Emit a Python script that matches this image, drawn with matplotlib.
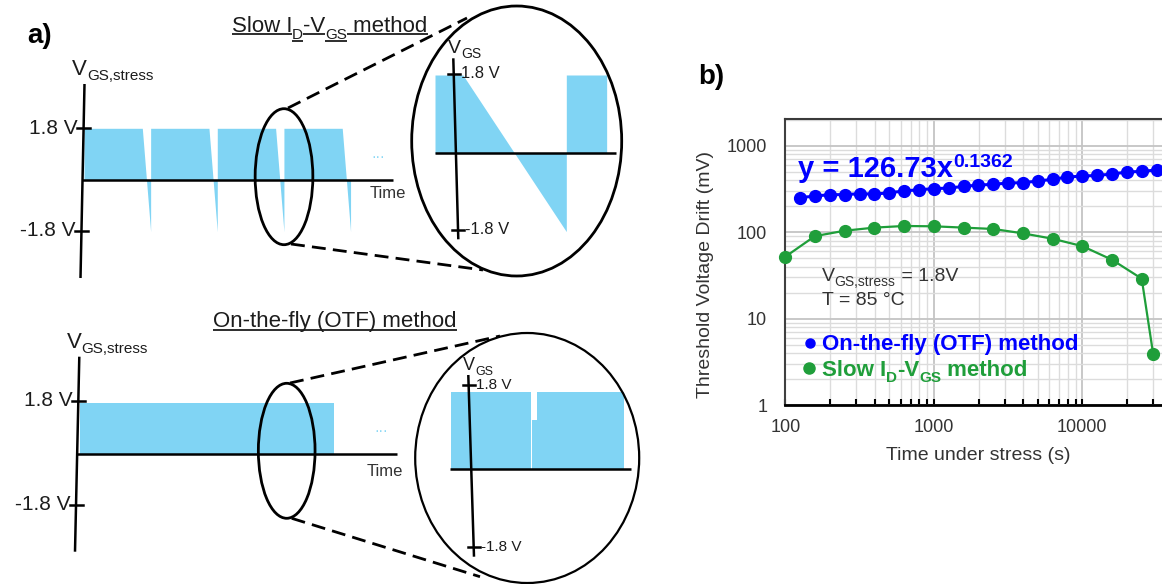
import numpy as np
import matplotlib
matplotlib.use("Agg")
import matplotlib.pyplot as plt
from matplotlib.patches import Ellipse
from matplotlib.ticker import FixedLocator, FixedFormatter, LogLocator, NullFormatter

plt.rcParams["font.family"] = ["Liberation Sans", "DejaVu Sans"]

# ---------------- data: threshold-voltage drift (mV) vs stress time (s) ----------------
otf_time = [126, 158, 200, 251, 316, 398, 501, 631, 794, 1000, 1259, 1585, 1995,
            2512, 3162, 3981, 5012, 6310, 7943, 10000, 12589, 15849, 19953, 25119, 31623]
otf_drift = [251, 262, 272, 272, 279, 276, 286, 300, 310, 319, 324, 339, 351,
             358, 371, 374, 391, 409, 435, 446, 454, 471, 497, 506, 524]

slow_time = [100, 158, 251, 398, 631, 1000, 1585, 2512, 3981, 6310, 10000, 15849, 25119, 30000]
slow_drift = [52, 90, 104, 113, 118, 117, 113, 109, 97, 84, 69, 48, 29, 3.9]

x_ticks = [100, 1000, 10000]
x_tick_labels = ["100", "1000", "10000"]
y_ticks = [1, 10, 100, 1000]
y_tick_labels = ["1", "10", "100", "1000"]

# ---------------- schematic waveforms (gate stress voltage) ----------------
V_STRESS = 1.8
slow_plateau = 7.0      # stress duration between sweeps
slow_ramp = 1.0         # duration of the I_D-V_GS sweep
slow_cycles = 4

zoom_slow_t = [0.0, 0.27, 1.27, 1.27, 1.66]
zoom_slow_v = [1.8, 1.8, -1.8, 1.8, 1.8]

otf_t = [0.0, 1.0]
otf_v = [1.8, 1.8]

# (start, end, level) for the OTF close-up: stress, short sense step, stress
zoom_otf_segments = [(0.0, 0.463, 1.8), (0.468, 0.496, 1.15), (0.497, 1.0, 1.8)]

FILL = "#80d4f4"
INK = "#1c1c1c"
GRAY = "#333333"
BLUE = "#0000ff"
GREEN = "#1f9e3a"

fig = plt.figure(figsize=(11.62, 5.84), dpi=100)

# ---------------- panel b: log-log plot ----------------
left_px, right_px, top_px, bot_px = 785.3, 1172.0, 119.3, 405.0
W, H = 1162.0, 584.0
ax = fig.add_axes([left_px / W, 1 - bot_px / H, (right_px - left_px) / W, (bot_px - top_px) / H])
ax.set_xscale("log")
ax.set_yscale("log")
ax.set_xlim(100, 10 ** (2 + (right_px - left_px) / 148.5))
ax.set_ylim(1, 10 ** ((bot_px - top_px) / 86.4))

ax.plot(otf_time, otf_drift, "-o", color=BLUE, ms=8.5, lw=2.2, mec=BLUE, zorder=4, clip_on=False)
ax.plot(slow_time, slow_drift, "-o", color=GREEN, ms=8.5, lw=1.6, zorder=3, clip_on=False)

ax.xaxis.set_major_locator(FixedLocator(x_ticks))
ax.xaxis.set_major_formatter(FixedFormatter(x_tick_labels))
ax.yaxis.set_major_locator(FixedLocator(y_ticks))
ax.yaxis.set_major_formatter(FixedFormatter(y_tick_labels))
ax.xaxis.set_minor_locator(LogLocator(base=10, subs=np.arange(2, 10)))
ax.yaxis.set_minor_locator(LogLocator(base=10, subs=np.arange(2, 10)))
ax.xaxis.set_minor_formatter(NullFormatter())
ax.yaxis.set_minor_formatter(NullFormatter())

ax.set_axisbelow(True)
ax.grid(True, which="major", color="#c4c4c4", lw=1.3)
ax.grid(True, which="minor", color="#dcdcdc", lw=1.0)

ax.tick_params(axis="x", which="both", direction="in", length=4, width=1.5,
               color="black", pad=10, labelsize=13, labelcolor=GRAY)
ax.tick_params(axis="y", which="both", length=0, pad=13, labelsize=13, labelcolor=GRAY)
ax.spines["left"].set_color("#404040")
ax.spines["left"].set_linewidth(1.5)
ax.spines["top"].set_color("#3a3a3a")
ax.spines["top"].set_linewidth(1.5)
ax.spines["bottom"].set_color("black")
ax.spines["bottom"].set_linewidth(2.0)
ax.spines["right"].set_visible(False)

# ---------------- overlay in pixel coordinates ----------------
ov = fig.add_axes([0, 0, 1, 1], zorder=5)
ov.set_xlim(0, W)
ov.set_ylim(H, 0)
ov.axis("off")

renderer = fig.canvas.get_renderer()


def text_runs(x, y, runs, color, weight="normal", underline=False, ul_gap=2.0):
    """Place consecutive text pieces (text, size, baseline shift) left to right."""
    for s, fs, dy in runs:
        t = ov.text(x, y + dy, s, fontsize=fs, color=color, fontweight=weight,
                    ha="left", va="baseline")
        w = t.get_window_extent(renderer).width
        if underline:
            ov.plot([x, x + w], [y + dy + ul_gap] * 2, color=color, lw=1.3,
                    solid_capstyle="butt")
        x += w
    return x


# axis labels and annotations of panel b
ov.text(978, 456, "Time under stress (s)", fontsize=14, color=GRAY, ha="center", va="center")
ov.text(705, 274, "Threshold Voltage Drift (mV)", fontsize=14, color=GRAY,
        ha="center", va="center", rotation=90)
text_runs(798, 176.7, [("y = 126.73x", 21, 0), ("0.1362", 14, -9.5)], BLUE, weight="bold")
text_runs(821.7, 281, [("V", 14, 0), ("GS,stress", 10, 4.5), (" = 1.8V", 14, 0)], GRAY)
text_runs(821.7, 305, [("T = 85 °C", 14, 0)], GRAY)
ov.plot([810], [343.3], "o", color=BLUE, ms=6.5)
text_runs(821.7, 350, [("On-the-fly (OTF) method", 16, 0)], BLUE, weight="bold")
ov.plot([809], [368.3], "o", color=GREEN, ms=8)
text_runs(821.7, 376, [("Slow I", 16, 0), ("D", 11, 6), ("-V", 16, 0), ("GS", 11, 6),
                       (" method", 16, 0)], GREEN, weight="bold")
ov.text(698, 83.5, "b)", fontsize=20, fontweight="bold", color="black", ha="left", va="baseline")

# ---------------- panel a: schematic waveforms ----------------
ov.text(27, 43, "a)", fontsize=20, fontweight="bold", color="black", ha="left", va="baseline")


def to_px(fr, t, v):
    return (fr["x0"] + np.asarray(t, float) * fr["sx"],
            fr["y0"] - np.asarray(v, float) * fr["sy"])


def draw_axes(fr, lw=1.8, tick_half=6.5, label_fs=15, label_side="left", label_dx=0.0):
    (xt, yt), (xb, yb) = fr["vaxis"]
    ov.plot([xt, xb], [yt, yb], color="black", lw=lw, solid_capstyle="butt")
    ov.plot(fr["haxis"], [fr["y0"]] * 2, color="black", lw=lw, solid_capstyle="butt")
    for lab, ty in zip(["1.8 V", "-1.8 V"], fr["ticks"]):
        xc = xt + (xb - xt) * (ty - yt) / (yb - yt)
        ov.plot([xc - tick_half, xc + tick_half], [ty, ty], color="black", lw=lw)
        if label_side == "left":
            ov.text(xc - tick_half + 1 + label_dx, ty, lab, fontsize=label_fs, color=INK,
                    ha="right", va="center")
        else:
            ov.text(xc + tick_half - 1 + label_dx, ty, lab, fontsize=label_fs, color=INK,
                    ha="left", va="center")


# slow method: main trace
slow_main = dict(x0=84.0, y0=180.0, sx=8.33, sy=(180.0 - 128.3) / 1.8,
                 vaxis=((84.5, 84.0), (80.5, 278.0)), haxis=[82, 393], ticks=(128.3, 231.0))
t_s, v_s = [], []
for k in range(slow_cycles):
    s = k * (slow_plateau + slow_ramp)
    t_s += [s, s + slow_plateau, s + slow_plateau + slow_ramp]
    v_s += [V_STRESS, V_STRESS, -V_STRESS]
xs, ys = to_px(slow_main, t_s, v_s)
ov.fill_between(xs, ys, slow_main["y0"], color=FILL, lw=0)
draw_axes(slow_main)
text_runs(72, 75, [("V", 16, 0), ("GS,stress", 11, 5)], INK)
ov.text(370, 198, "Time", fontsize=12, color=GRAY, ha="left", va="baseline")
ov.text(378, 157, "···", fontsize=10, color=FILL, ha="center", va="center")

# slow method: close-up
slow_zoom = dict(x0=435.0, y0=153.3, sx=103.4, sy=(153.3 - 75.0) / 1.8,
                 vaxis=((453.3, 58.3), (458.3, 239.3)), haxis=[435, 616], ticks=(74.0, 230.0))
xs, ys = to_px(slow_zoom, zoom_slow_t, zoom_slow_v)
ov.fill_between(xs, ys, slow_zoom["y0"], color=FILL, lw=0)
draw_axes(slow_zoom, tick_half=6.0, label_fs=12, label_side="right", label_dx=2)
text_runs(448, 53, [("V", 14, 0), ("GS", 10, 5)], INK)

ov.add_patch(Ellipse((284.0, 176.7), 57.7, 136, fill=False, lw=2.0, ec="black"))
ov.add_patch(Ellipse((516.7, 141.0), 210, 270, fill=False, lw=2.0, ec="black"))
dash = (0, (5.0, 2.6))
ov.plot([288, 467], [108, 18], color="black", lw=2.0, ls=dash)
ov.plot([291, 483], [244, 270], color="black", lw=2.0, ls=dash)

text_runs(231.7, 32.3, [("Slow I", 16, 0), ("D", 11, 6.5), ("-V", 16, 0), ("GS", 11, 6.5),
                        (" method", 16, 0)], INK, underline=True, ul_gap=1.8)

# OTF method: main trace
otf_main = dict(x0=80.0, y0=454.3, sx=254.3, sy=(454.3 - 402.5) / 1.8,
                vaxis=((79.3, 356.7), (75.0, 551.7)), haxis=[76, 396.7], ticks=(401.0, 505.0))
xs, ys = to_px(otf_main, otf_t, otf_v)
ov.fill_between(xs, ys, otf_main["y0"], color=FILL, lw=0)
draw_axes(otf_main)
text_runs(66.7, 348.3, [("V", 16, 0), ("GS,stress", 11, 5)], INK)
ov.text(367, 476, "Time", fontsize=12, color=GRAY, ha="left", va="baseline")
ov.text(381, 431, "···", fontsize=10, color=FILL, ha="center", va="center")

# OTF method: close-up
otf_zoom = dict(x0=450.7, y0=469.3, sx=173.3, sy=(469.3 - 391.7) / 1.8,
                vaxis=((468.3, 375.0), (474.0, 556.7)), haxis=[450, 630.7], ticks=(385.0, 547.3))
for t0, t1, lev in zoom_otf_segments:
    xs, ys = to_px(otf_zoom, [t0, t1], [lev, lev])
    ov.fill_between(xs, ys, otf_zoom["y0"], color=FILL, lw=0)
draw_axes(otf_zoom, lw=1.8, tick_half=6.0, label_fs=11, label_side="right", label_dx=2)
text_runs(463, 370, [("V", 13, 0), ("GS", 9, 5)], INK)

ov.add_patch(Ellipse((286.7, 450.8), 56.7, 135, fill=False, lw=2.0, ec="black"))
ov.add_patch(Ellipse((527.2, 458.0), 224, 250, fill=False, lw=1.6, ec="black"))
ov.plot([290, 500], [383, 336], color="black", lw=2.0, ls=dash)
ov.plot([291.7, 480], [518.3, 576.7], color="black", lw=2.0, ls=dash)

text_runs(213.3, 327.3, [("On-the-fly (OTF) method", 16, 0)], INK, underline=True, ul_gap=2.5)

fig.savefig("out.png", dpi=100)
